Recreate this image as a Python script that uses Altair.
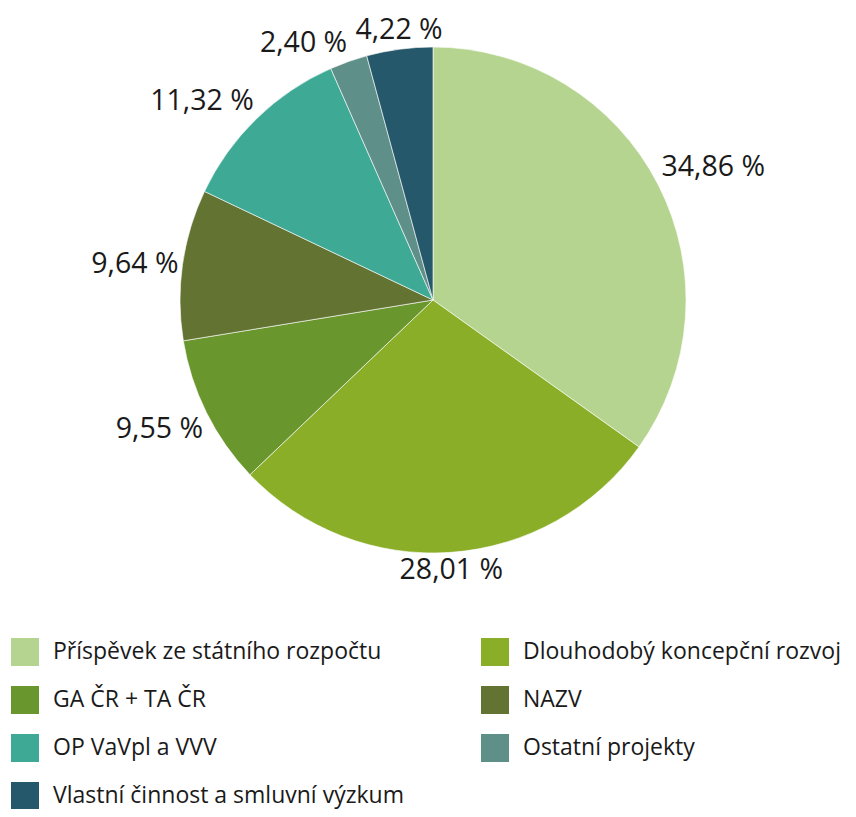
import math
import altair as alt
import pandas as pd

categories = [
    "Příspěvek ze státního rozpočtu",
    "Dlouhodobý koncepční rozvoj",
    "GA ČR + TA ČR",
    "NAZV",
    "OP VaVpl a VVV",
    "Ostatní projekty",
    "Vlastní činnost a smluvní výzkum",
]
values = [34.86, 28.01, 9.55, 9.64, 11.32, 2.40, 4.22]
colors = ["#b5d48f", "#8aae28", "#6a962e", "#637332", "#3ea995", "#5e8f88", "#25586a"]

FONT = "Open Sans"
CX, CY, R = 425, 292, 253
LABEL_R = 257

df = pd.DataFrame({"cat": categories, "value": values, "idx": list(range(len(values)))})
df["label"] = [f"{v:.2f}".replace(".", ",") + " %" for v in values]
cum = df["value"].cumsum()
df["mid"] = cum - df["value"] / 2
total = df["value"].sum()


def align_of(a):
    if a < 20 or a > 345:
        return "center"
    if 160 <= a <= 200:
        return "center"
    return "left" if a < 180 else "right"


def base_of(a):
    if a < 70 or a > 290:
        return "bottom"
    if 110 < a < 250:
        return "top"
    return "middle"


deg = df["mid"] / total * 360
df["al"] = [align_of(a) for a in deg]
df["bl"] = [base_of(a) for a in deg]
df["grp"] = df["al"] + "_" + df["bl"]

theta_scale = alt.Scale(domain=[0, float(total)], range=[0, 2 * math.pi])

arcs = alt.Chart(df).mark_arc(radius=R, stroke="white", strokeWidth=0.6).encode(
    theta=alt.Theta("value:Q", stack=True, scale=theta_scale),
    order=alt.Order("idx:Q"),
    color=alt.Color(
        "cat:N",
        scale=alt.Scale(domain=categories, range=colors),
        legend=alt.Legend(
            title=None,
            orient="none",
            direction="horizontal",
            legendX=3,
            legendY=630,
            columns=2,
            columnPadding=77,
            rowPadding=20,
            symbolType="square",
            symbolSize=784,
            symbolStrokeWidth=0,
            symbolOpacity=1,
            labelFont=FONT,
            labelFontSize=23,
            labelColor="#1a1a1a",
            labelOffset=14,
            labelLimit=600,
            padding=0,
        ),
    ),
    x=alt.value(CX),
    y=alt.value(CY),
)

layers = [arcs]
for grp in df["grp"].unique():
    al, bl = grp.split("_")
    layers.append(
        alt.Chart(df)
        .transform_filter(alt.datum.grp == grp)
        .mark_text(radius=LABEL_R, align=al, baseline=bl, font=FONT, fontSize=28.5, color="#1a1a1a")
        .encode(
            theta=alt.Theta("mid:Q", stack=None, scale=theta_scale),
            text="label:N",
            x=alt.value(CX),
            y=alt.value(CY),
        )
    )

chart = (
    alt.layer(*layers)
    .properties(width=840, height=801, autosize=alt.AutoSizeParams(type="none"), padding=0)
    .configure_view(stroke=None)
)

chart.save("out.html", embed_options={"renderer": "svg", "actions": False})
